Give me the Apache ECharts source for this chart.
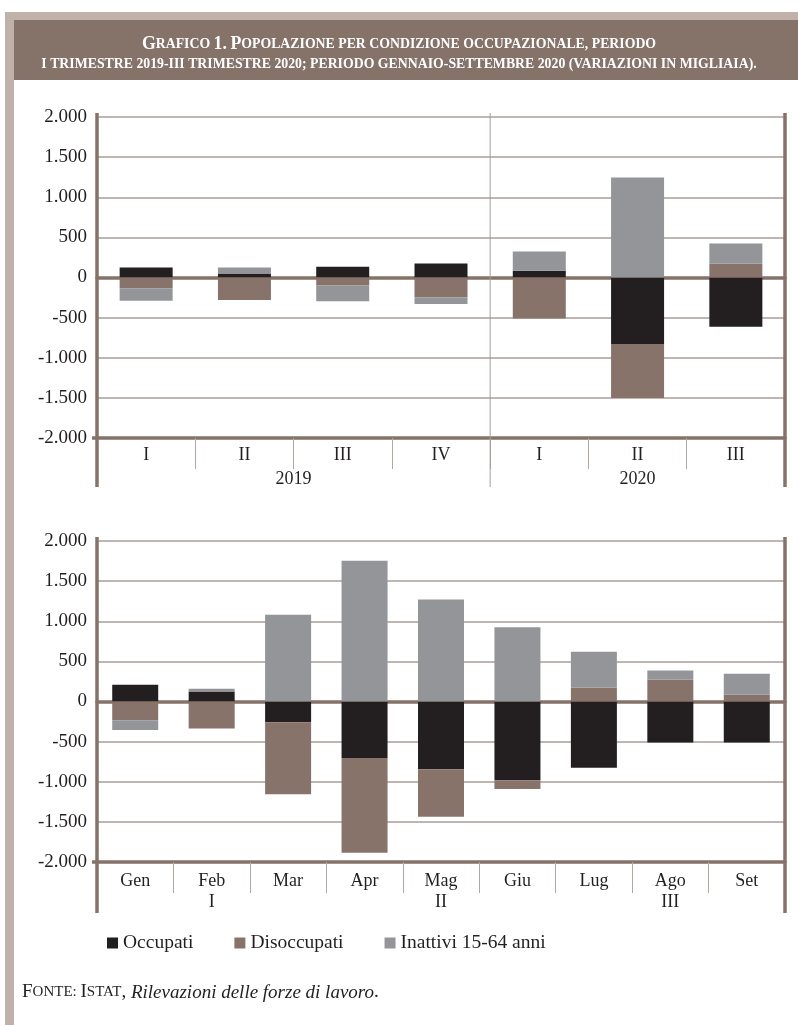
<!DOCTYPE html>
<html>
<head>
<meta charset="utf-8">
<script src="https://cdn.jsdelivr.net/npm/echarts@6/dist/echarts.min.js"></script>
<style>
  html, body { margin: 0; padding: 0; background: #ffffff; }
  #chart { width: 798px; height: 1025px; }
</style>
</head>
<body>
<div id="chart"></div>
<script>
// ---- Quarterly changes (thousands): I 2019 - III 2020 ----
const quarters = ['I', 'II', 'III', 'IV', 'I', 'II', 'III'];
const years = ['2019', '2020'];
const quartersPerYear = [4, 3];
const occupatiQ = [125, 50, 135, 175, 85, -830, -615];
const disoccupatiQ = [-135, -280, -100, -250, -510, -670, 175];
const inattiviQ = [-155, 75, -195, -80, 240, 1245, 250];

// ---- Monthly changes (thousands): January - September 2020 ----
const months = ['Gen', 'Feb', 'Mar', 'Apr', 'Mag', 'Giu', 'Lug', 'Ago', 'Set'];
const monthQuarters = ['I', 'II', 'III'];
const monthsPerQuarter = [3, 3, 3];
const occupatiM = [210, 125, -260, -705, -845, -980, -825, -510, -510];
const disoccupatiM = [-235, -335, -895, -1180, -590, -110, 175, 275, 85];
const inattiviM = [-120, 35, 1080, 1755, 1270, 925, 445, 110, 260];

const seriesNames = ['Occupati', 'Disoccupati', 'Inattivi 15-64 anni'];
const yTicks = { min: -2000, max: 2000, step: 500 };

// ---- Styling ----
const COLORS = ['#231f20', '#87736a', '#939598'];
const BROWN = '#85736a';
const FRAME = '#c0b2aa';
const GRIDLINE = '#ab9e97';
const TICK = '#b3a7a1';
const TEXT = '#231f20';
const FONT = '"Liberation Serif", "Times New Roman", serif';

const chart = echarts.init(document.getElementById('chart'), null, { renderer: 'canvas' });

// Italian thousands separator
function fmtIt(v) {
  const s = String(Math.abs(v)).replace(/\B(?=(\d{3})+(?!\d))/g, '.');
  return (v < 0 ? '-' : '') + s;
}

// Centre positions of group labels on a 0..n value axis
function groupCentres(spans) {
  const out = [];
  let acc = 0;
  spans.forEach(function (n) { out.push(acc + n / 2); acc += n; });
  return out;
}
const yearCentres = groupCentres(quartersPerYear);
const quarterCentres = groupCentres(monthsPerQuarter);

function groupLabel(centres, labels) {
  return function (v) {
    for (let i = 0; i < centres.length; i++) {
      if (Math.abs(v - centres[i]) < 1e-6) return labels[i];
    }
    return '';
  };
}

// Small caps as rich text: lowercase letters become reduced capitals
function smallCaps(str, big, small) {
  let out = '';
  let run = '', cls = null;
  for (const ch of str) {
    const c = (ch >= 'a' && ch <= 'z') || ch === ' ' || ch === ',' ? small : big;
    if (c !== cls && run) { out += '{' + cls + '|' + run + '}'; run = ''; }
    cls = c;
    run += ch.toUpperCase();
  }
  if (run) out += '{' + cls + '|' + run + '}';
  return out;
}

const labelStyle = { fontSize: 18, color: TEXT, fontFamily: FONT };

function yAxisFor(gridIndex) {
  return {
    gridIndex: gridIndex,
    type: 'value',
    min: yTicks.min,
    max: yTicks.max,
    interval: yTicks.step,
    axisLine: { show: false, onZero: false },
    axisTick: { show: false },
    splitLine: { show: true, lineStyle: { color: GRIDLINE, width: 1.5 } },
    axisLabel: { margin: 10, formatter: fmtIt, fontSize: 19, color: TEXT, fontFamily: FONT }
  };
}

function categoryAxis(gridIndex, data, margin) {
  return {
    gridIndex: gridIndex,
    type: 'category',
    data: data,
    position: 'bottom',
    axisLine: { show: true, onZero: false, lineStyle: { color: BROWN, width: 3.5 } },
    axisTick: { show: true, length: 31, lineStyle: { color: TICK, width: 1 } },
    axisLabel: Object.assign({ margin: margin, interval: 0 }, labelStyle),
    splitLine: { show: false }
  };
}

function groupAxis(gridIndex, count, centres, labels, margin) {
  return {
    gridIndex: gridIndex,
    type: 'value',
    min: 0,
    max: count,
    interval: 0.5,
    position: 'bottom',
    axisLine: { show: false, onZero: false },
    axisTick: { show: false },
    splitLine: { show: false },
    axisLabel: Object.assign({ margin: margin, formatter: groupLabel(centres, labels) }, labelStyle)
  };
}

function zeroAxis(gridIndex, data) {
  return {
    gridIndex: gridIndex,
    type: 'category',
    data: data,
    position: 'bottom',
    axisLine: { show: true, onZero: true, lineStyle: { color: BROWN, width: 3.5 } },
    axisTick: { show: false },
    axisLabel: { show: false },
    splitLine: { show: false }
  };
}

function barSeries(xAxisIndex, yAxisIndex, stack, width, values) {
  return values.map(function (vals, i) {
    return {
      name: seriesNames[i],
      type: 'bar',
      xAxisIndex: xAxisIndex,
      yAxisIndex: yAxisIndex,
      stack: stack,
      barWidth: width,
      data: vals,
      itemStyle: { color: COLORS[i] },
      z: 3
    };
  });
}

const titleRich = {
  b: { fontSize: 17.8, color: '#ffffff', fontFamily: FONT, fontWeight: 'bold' },
  s: { fontSize: 13.8, color: '#ffffff', fontFamily: FONT, fontWeight: 'bold' }
};

const sourceRich = {
  b: { fontSize: 19, color: TEXT, fontFamily: FONT, fontWeight: 'normal' },
  s: { fontSize: 15, color: TEXT, fontFamily: FONT, fontWeight: 'normal' },
  n: { fontSize: 19, color: TEXT, fontFamily: FONT, fontWeight: 'normal' },
  i: { fontSize: 19, color: TEXT, fontFamily: FONT, fontWeight: 'normal', fontStyle: 'italic' }
};

const option = {
  animation: false,
  color: COLORS,
  title: [
    {
      text: smallCaps('Grafico 1. Popolazione per condizione occupazionale, periodo', 'b', 's'),
      left: 'center', top: 30,
      textStyle: { rich: titleRich }
    },
    {
      text: '{s|I TRIMESTRE 2019-III TRIMESTRE 2020; PERIODO GENNAIO-SETTEMBRE 2020 (VARIAZIONI IN MIGLIAIA).}',
      left: 'center', top: 52,
      textStyle: { rich: titleRich }
    },
    {
      text: '{b|F}{s|ONTE: }{b|I}{s|STAT}{n|, }{i|Rilevazioni delle forze di lavoro}{n|.}',
      left: 22, top: 983, padding: 0,
      textStyle: { fontWeight: 'normal', rich: sourceRich }
    }
  ],
  legend: {
    data: seriesNames,
    left: 107,
    top: 933,
    padding: 0,
    icon: 'rect',
    itemWidth: 11,
    itemHeight: 11,
    itemGap: 41,
    textStyle: { fontSize: 19.5, color: TEXT, fontFamily: FONT }
  },
  grid: [
    { left: 97, right: 13, top: 117, height: 321 },
    { left: 97, right: 13, top: 541, height: 321 }
  ],
  xAxis: [
    categoryAxis(0, quarters, 8),
    groupAxis(0, quarters.length, yearCentres, years, 32),
    zeroAxis(0, quarters),
    categoryAxis(1, months, 10),
    groupAxis(1, months.length, quarterCentres, monthQuarters, 31),
    zeroAxis(1, months)
  ],
  yAxis: [yAxisFor(0), yAxisFor(1)],
  series: [].concat(
    barSeries(0, 0, 'trimestri', 53, [occupatiQ, disoccupatiQ, inattiviQ]),
    barSeries(3, 1, 'mesi', 46, [occupatiM, disoccupatiM, inattiviM])
  )
};

chart.setOption(option);

// Frame, outer axis lines and the year divider, placed through the axes' own scales
function frameLines(xAxisIndex, yAxisIndex, count, dividers, drop) {
  const f = { xAxisIndex: xAxisIndex, yAxisIndex: yAxisIndex };
  const tl = chart.convertToPixel(f, [0, yTicks.max]);
  const br = chart.convertToPixel(f, [count, yTicks.min]);
  const top = tl[1] - 4;
  const bottom = br[1] + drop;
  const els = [];
  dividers.forEach(function (d) {
    const x = chart.convertToPixel(f, [d, 0])[0];
    els.push({
      type: 'line', silent: true, z: 40,
      shape: { x1: x, y1: top, x2: x, y2: bottom },
      style: { stroke: '#a99c95', lineWidth: 1 }
    });
  });
  [tl[0], br[0]].forEach(function (x) {
    els.push({
      type: 'line', silent: true, z: 50,
      shape: { x1: x, y1: top, x2: x, y2: bottom },
      style: { stroke: BROWN, lineWidth: 3.5 }
    });
  });
  els.push({
    type: 'line', silent: true, z: 50,
    shape: { x1: tl[0] - 5, y1: br[1], x2: tl[0], y2: br[1] },
    style: { stroke: BROWN, lineWidth: 3.5 }
  });
  return els;
}

const graphics = [
  { type: 'rect', silent: true, z: -20, shape: { x: 5, y: 12, width: 793, height: 1013 }, style: { fill: FRAME } },
  { type: 'rect', silent: true, z: -19, shape: { x: 14, y: 20, width: 784, height: 60 }, style: { fill: BROWN } },
  { type: 'rect', silent: true, z: -19, shape: { x: 14, y: 80, width: 784, height: 945 }, style: { fill: '#ffffff' } }
].concat(
  frameLines(1, 0, quarters.length, [quartersPerYear[0]], 49),
  frameLines(4, 1, months.length, [], 51)
);

chart.setOption({ graphic: graphics });
</script>
</body>
</html>
